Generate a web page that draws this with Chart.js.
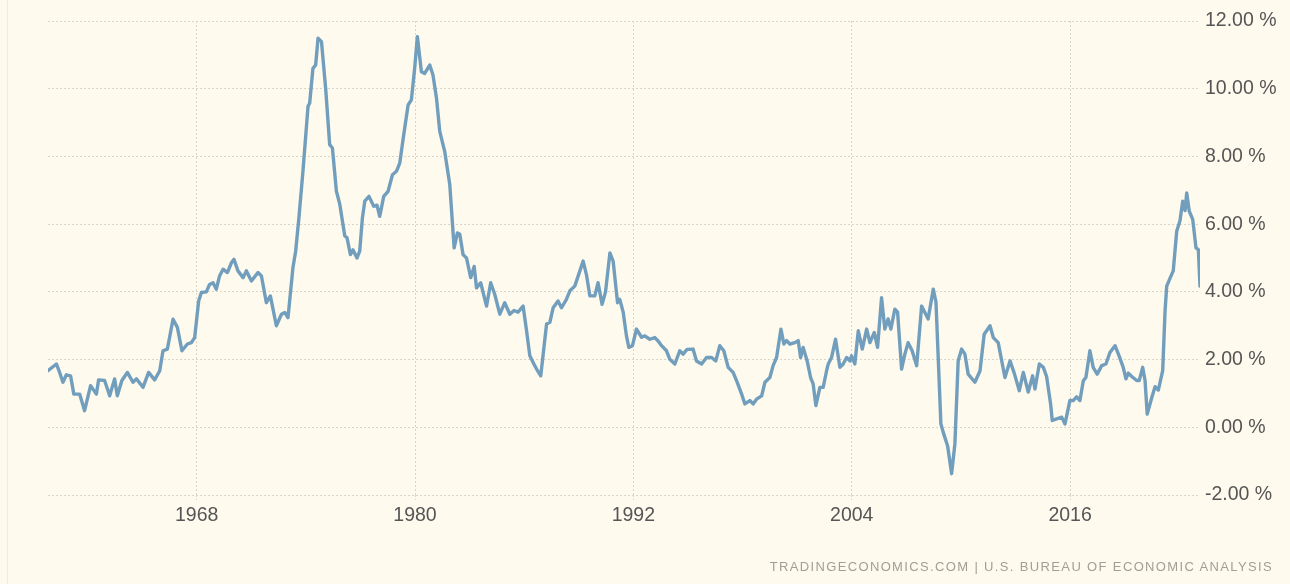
<!DOCTYPE html>
<html>
<head>
<meta charset="utf-8">
<script src="https://cdn.jsdelivr.net/npm/chart.js@4.4.1/dist/chart.umd.min.js"></script>
<style>
  html, body { margin:0; padding:0; background:#FEFAEE; }
  #wrap { position:relative; width:1290px; height:584px; overflow:hidden; background:#FEFAEE; }
  #edge { position:absolute; left:7px; top:0; width:1px; height:584px; background:#F1ECDE; }
  #src { position:absolute; right:17px; top:559px; font-family:"Liberation Sans", Arial, sans-serif; font-size:13px; letter-spacing:1.36px; color:#A29E96; white-space:nowrap; }
  canvas { position:absolute; left:0; top:0; }
</style>
</head>
<body>
<div id="wrap">
  <div id="edge"></div>
  <canvas id="c" width="1290" height="584"></canvas>
  <div id="src">TRADINGECONOMICS.COM | U.S. BUREAU OF ECONOMIC ANALYSIS</div>
</div>
<script>
// Time (decimal year) of each reading
const dates = [
  1959.83,1960.29,1960.47,1960.65,1960.84,1961.07,1961.25,1961.57,1961.84,1962.17,1962.49,1962.61,1962.94,
  1963.22,1963.49,1963.64,1963.89,1964.19,1964.50,1964.69,1965.05,1965.36,1965.69,1965.97,1966.15,1966.39,
  1966.70,1966.94,1967.19,1967.49,1967.71,1967.89,1968.11,1968.26,1968.53,1968.71,1968.90,1969.08,1969.26,
  1969.45,1969.69,1969.91,1970.05,1970.27,
  1970.55,1970.73,1971.01,1971.37,1971.56,1971.83,1972.05,1972.38,1972.66,1972.84,1973.02,1973.29,1973.44,
  1973.62,1973.84,1974.12,1974.21,1974.39,1974.54,1974.67,1974.86,1975.09,1975.31,1975.46,1975.68,1975.86,
  1976.14,1976.26,1976.45,1976.59,1976.81,1976.96,1977.11,1977.24,1977.47,1977.73,1977.91,1978.06,1978.28,
  1978.52,1978.76,1978.98,1979.16,1979.38,1979.62,1979.80,1979.98,1980.13,1980.35,1980.53,1980.81,1980.99,
  1981.18,1981.36,
  1981.63,1981.91,1982.15,1982.33,1982.46,1982.64,1982.83,1983.06,1983.25,1983.38,1983.61,1983.93,1984.16,
  1984.38,1984.66,1984.93,1985.21,1985.44,1985.66,1985.94,1986.13,1986.31,1986.54,1986.68,1986.91,1987.23,
  1987.41,1987.59,1987.86,1988.05,1988.32,1988.51,1988.78,1989.06,1989.24,1989.42,1989.61,1989.88,1990.06,
  1990.28,1990.47,1990.71,1990.89,1991.13,1991.25,1991.44,1991.62,1991.75,
  1991.95,1992.17,1992.45,1992.63,1992.90,1993.18,1993.36,1993.55,1993.82,1994.00,1994.28,1994.55,1994.73,
  1994.95,1995.28,1995.47,1995.75,1996.02,1996.30,1996.53,1996.75,1996.97,1997.21,1997.48,1997.67,1997.95,
  1998.13,1998.40,1998.58,1998.77,1999.05,1999.23,1999.50,1999.68,1999.87,2000.11,2000.27,2000.42,2000.60,
  2000.88,2001.06,2001.19,2001.33,2001.55,2001.74,2001.88,2002.03,2002.25,2002.43,
  2002.62,2002.71,2002.89,2003.11,2003.35,2003.53,2003.72,2003.90,2003.99,2004.17,2004.36,2004.58,2004.82,
  2005.00,2005.24,2005.42,2005.64,2005.82,2006.00,2006.15,2006.37,2006.52,2006.74,2006.92,2007.10,2007.32,
  2007.57,2007.84,2008.20,2008.48,2008.63,2008.90,2009.03,2009.27,2009.49,2009.67,2009.85,2010.04,2010.22,
  2010.40,2010.77,2011.05,2011.28,2011.60,2011.78,2012.05,2012.42,2012.70,2012.93,2013.21,
  2013.43,2013.70,2013.94,2014.07,2014.31,2014.53,2014.71,2014.93,2015.02,2015.26,2015.54,2015.72,2015.99,
  2016.17,2016.36,2016.54,2016.73,2016.87,2017.09,2017.27,2017.49,2017.74,2017.97,2018.19,2018.47,2018.70,
  2018.92,2019.07,2019.20,2019.39,2019.66,2019.80,2019.99,2020.12,2020.24,2020.49,2020.67,2020.85,2021.09,
  2021.22,2021.31,2021.49,2021.67,2021.86,2022.04,2022.19,2022.32,2022.41,2022.55,2022.74,2022.92,2023.05,
  2023.14
];

// PCE price index, year-on-year change (%)
const inflation = [
  1.67,1.87,1.62,1.33,1.55,1.52,0.98,0.98,0.49,1.23,0.98,1.40,1.38,
  0.93,1.43,0.93,1.38,1.62,1.33,1.43,1.18,1.62,1.40,1.67,2.26,2.31,
  3.19,2.95,2.26,2.46,2.50,2.65,3.73,3.98,4.00,4.22,4.27,4.08,4.47,
  4.67,4.57,4.86,4.96,4.62,
  4.42,4.62,4.32,4.57,4.47,3.68,3.88,3.00,3.34,3.39,3.24,4.71,5.20,
  6.19,7.56,9.48,9.57,10.60,10.70,11.49,11.39,10.00,8.35,8.25,6.97,6.60,
  5.65,5.60,5.10,5.24,5.00,5.20,6.19,6.68,6.82,6.53,6.56,6.23,6.82,
  6.97,7.46,7.56,7.80,8.64,9.52,9.67,10.60,11.54,10.50,10.45,10.70,10.40,
  9.72,8.74,
  8.15,7.17,5.30,5.74,5.70,5.10,5.00,4.42,4.75,4.12,4.27,3.58,4.27,
  3.93,3.34,3.68,3.34,3.45,3.40,3.58,2.85,2.11,1.86,1.72,1.52,3.05,
  3.10,3.53,3.73,3.53,3.78,4.03,4.17,4.62,4.91,4.51,3.88,3.88,4.27,
  3.63,4.00,5.15,4.90,3.68,3.78,3.40,2.70,2.36,
  2.41,2.90,2.66,2.70,2.60,2.65,2.55,2.41,2.26,2.01,1.87,2.26,2.16,
  2.30,2.31,1.96,1.87,2.06,2.06,1.96,2.41,2.26,1.77,1.62,1.38,0.98,
  0.69,0.79,0.69,0.83,0.93,1.33,1.47,1.82,2.06,2.90,2.46,2.56,2.46,
  2.50,2.56,2.06,2.36,1.96,1.47,1.28,0.64,1.18,1.18,
  1.67,1.87,2.06,2.60,1.77,1.87,2.06,1.96,2.11,1.87,2.85,2.31,2.90,
  2.50,2.80,2.36,3.83,2.90,3.20,2.90,3.49,3.40,1.72,2.16,2.50,2.26,
  1.82,3.58,3.20,4.08,3.70,0.10,-0.15,-0.55,-1.37,-0.49,1.96,2.31,2.16,
  1.57,1.33,1.67,2.75,3.00,2.65,2.50,1.47,1.96,1.60,1.08,
  1.62,1.04,1.52,1.13,1.87,1.77,1.50,0.69,0.20,0.25,0.30,0.10,0.79,
  0.79,0.90,0.79,1.38,1.47,2.26,1.77,1.57,1.82,1.87,2.21,2.41,2.10,
  1.77,1.43,1.60,1.50,1.38,1.38,1.77,1.38,0.39,0.88,1.20,1.10,1.67,
  3.44,4.17,4.40,4.62,5.79,6.10,6.68,6.40,6.92,6.38,6.14,5.30,5.25,
  4.17
];

const xTickYears = [1968, 1980, 1992, 2004, 2016];
const yMin = -2, yMax = 12, yStep = 2;

const points = dates.map((d, i) => ({ x: d, y: inflation[i] }));
const gridColor = '#D9D5C9';
const labelFont = { family: '"Liberation Sans", Arial, sans-serif', size: 19.5 };

new Chart(document.getElementById('c'), {
  type: 'line',
  data: {
    datasets: [{
      data: points,
      borderColor: '#729EBD',
      borderWidth: 3.4,
      pointRadius: 0,
      tension: 0,
      fill: false,
      borderJoinStyle: 'round',
      borderCapStyle: 'round'
    }]
  },
  options: {
    responsive: false,
    animation: false,
    layout: { padding: { left: 48, top: 21, right: 0, bottom: 0 } },
    plugins: { legend: { display: false }, tooltip: { enabled: false } },
    scales: {
      x: {
        type: 'linear',
        min: dates[0],
        max: dates[dates.length - 1],
        afterBuildTicks: (a) => { a.ticks = xTickYears.map(v => ({ value: v })); },
        afterFit: (a) => { a.height = 89; },
        grid: { color: gridColor, lineWidth: 1, drawTicks: true, tickLength: 5, tickColor: gridColor, tickBorderDash: [2, 2] },
        border: { display: false, dash: [2, 2] },
        ticks: {
          font: labelFont, color: '#555555', padding: 4, maxRotation: 0, autoSkip: false,
          callback: (v) => String(v)
        }
      },
      y: {
        position: 'right',
        min: yMin, max: yMax,
        afterFit: (a) => { a.width = 90; },
        grid: { color: gridColor, lineWidth: 1, drawTicks: false },
        border: { display: false, dash: [2, 2] },
        ticks: {
          stepSize: yStep, font: labelFont, color: '#555555', padding: 5,
          callback: (v) => v.toFixed(2) + ' %'
        }
      }
    }
  }
});
</script>
</body>
</html>
